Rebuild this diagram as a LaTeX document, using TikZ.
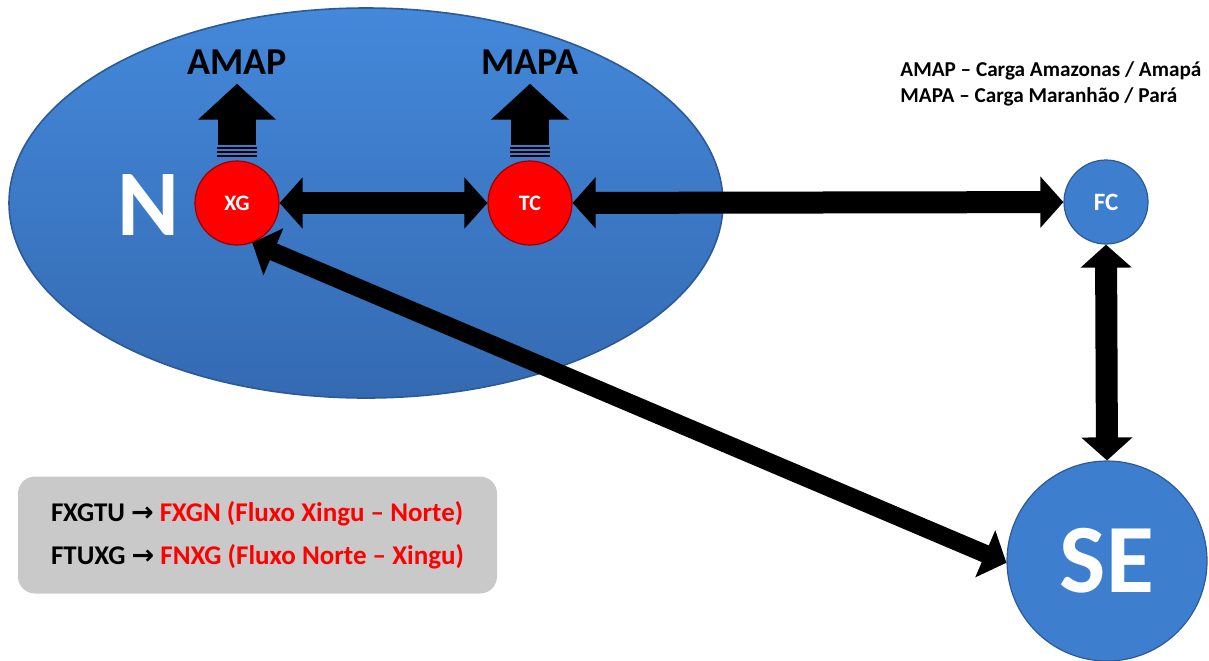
\documentclass[tikz,border=0pt]{standalone}
\usepackage{fontspec}
\setmainfont{Carlito}
\newfontfamily\arrowfont{DejaVu Sans}
\usetikzlibrary{arrows.meta,shapes.geometric}
\definecolor{nblue}{RGB}{62,126,206}
\definecolor{nbluetop}{RGB}{68,136,218}
\definecolor{nbluebot}{RGB}{52,106,178}
\definecolor{nbluedark}{RGB}{44,90,150}
\definecolor{cred}{RGB}{255,0,0}
\definecolor{boxgray}{RGB}{201,201,201}
\tikzstyle{region}=[ellipse,draw=nbluedark,line width=0.8pt,top color=nbluetop,bottom color=nbluebot,minimum width=357pt,minimum height=195pt]
\tikzstyle{rcity}=[circle,fill=cred,draw=red!60!black,line width=0.6pt,minimum size=42pt,inner sep=0pt,text=white,font=\bfseries\fontsize{11}{11}\selectfont]
\tikzstyle{bcity}=[circle,fill=nblue,draw=nbluedark,line width=0.6pt,inner sep=0pt,text=white]
\tikzstyle{flow}=[{Triangle[length=11.5pt,width=25pt]}-{Triangle[length=11.5pt,width=25pt]}, line width=11pt]
\tikzstyle{export}=[-{Triangle[length=18pt,width=38pt]}, line width=19pt]
\tikzstyle{exlabel}=[inner sep=4.5pt,font=\bfseries\fontsize{19}{19}\selectfont]

\begin{document}
\begin{tikzpicture}[x=0.5pt,y=-0.5pt]
\useasboundingbox (0,0) rectangle (1209,660);
\node[region] (Nreg) at (366,203) {};
\node[text=white,font=\bfseries\fontsize{47}{47}\selectfont] (N) at (148,205) {N};
\node[rcity] (XG) at (237,203) {XG};
\node[rcity] (TC) at (530,203) {TC};
\node[bcity,minimum size=42pt,font=\bfseries\fontsize{12.5}{12.5}\selectfont] (FC) at (1106,202) {FC};
\node[bcity,minimum size=100pt,font=\bfseries\fontsize{49}{49}\selectfont] (SE) at (1107,561) {SE};
\node[exlabel] (AMAP) at (237,62) {AMAP};
\node[exlabel] (MAPA) at (530,62) {MAPA};
\node[anchor=west,align=left,inner sep=0pt,font=\bfseries\fontsize{10.6}{13}\selectfont] (legend) at (900,84) {AMAP -- Carga Amazonas / Amapá\\MAPA -- Carga Maranhão / Pará};
\node[rounded corners=8.5pt,fill=boxgray,minimum width=239.5pt,minimum height=58.5pt,align=left,font=\bfseries\fontsize{13.5}{21.5}\selectfont] (flows) at (257.5,535) {FXGTU {\arrowfont →} \textcolor{cred}{FXGN (Fluxo Xingu -- Norte)}\\FTUXG {\arrowfont →} \textcolor{cred}{FNXG (Fluxo Norte -- Xingu)}};
% exports
\foreach \c/\l in {XG/AMAP,TC/MAPA}{
\draw[export] ([yshift=7.5pt]\c.north) -- (\l.south);
\foreach \s in {2,4,6} \draw[line width=1pt] ([xshift=-10pt,yshift=\s pt]\c.north) -- ++(20pt,0);
}
% interchanges
\draw[flow](XG)--(TC);\draw[flow](TC)--(FC);\draw[flow](FC.south)--(SE.north);
\draw[flow,line width=9pt](XG.-69)--(SE.181);
\end{tikzpicture}
\end{document}
